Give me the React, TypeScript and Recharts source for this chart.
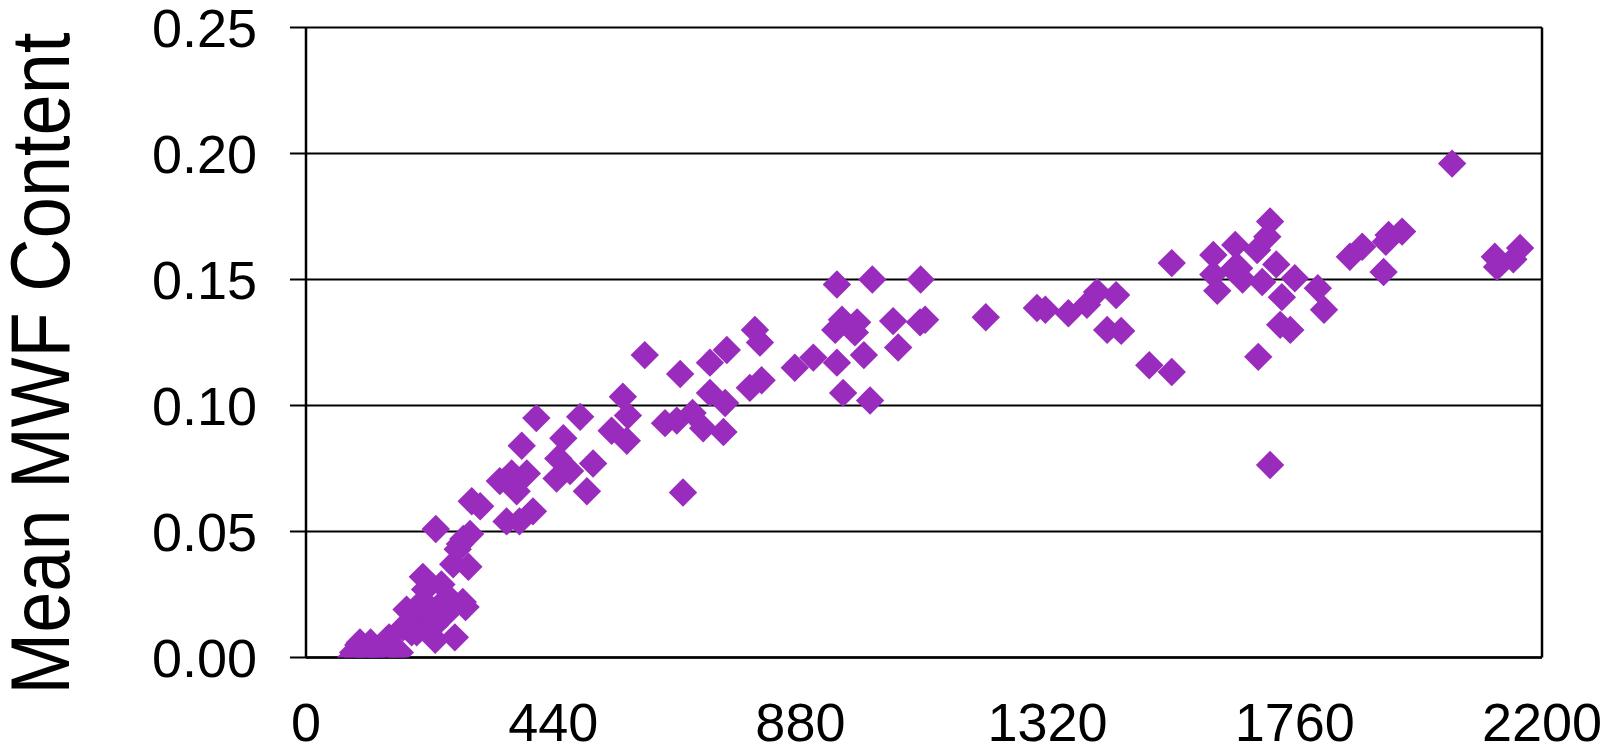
import React from "react";
import {
  ScatterChart,
  Scatter,
  XAxis,
  YAxis,
  CartesianGrid,
  ReferenceLine,
} from "recharts";

// X values (horizontal axis) and mean MWF content (vertical axis)
const xValues: number[] = [
  80, 84, 93, 96, 106, 114, 115, 126, 135, 138, 144, 148, 162, 167, 173, 179,
  188, 194, 197, 202, 208, 212, 217, 224, 230, 230, 231, 235, 241, 248, 257,
  262, 265, 270, 274, 279, 280, 284, 289, 292, 295, 310,
  345, 357, 366, 375, 380, 384, 393, 404, 410, 446, 449, 458, 470, 488, 500,
  511, 544, 564, 571, 573, 603, 639, 660, 666, 671, 688, 707, 719, 719, 743,
  746, 749, 790, 799, 808, 811, 870, 903, 942, 945, 945, 954, 956, 977, 981,
  993, 1004, 1008, 1045, 1054, 1093, 1094, 1102,
  1210, 1301, 1316, 1357, 1390, 1408, 1426, 1442, 1451, 1501, 1541, 1541,
  1615, 1615, 1622, 1650, 1654, 1661, 1667, 1693, 1695, 1702, 1711, 1716,
  1716, 1727, 1734, 1737, 1752, 1760, 1801, 1812, 1858, 1880, 1918, 1922,
  1927, 1951, 2040, 2116, 2120, 2149, 2161,
];

const mwfValues: number[] = [
  0.0, 0.002, 0.005, 0.006, 0.002, 0.002, 0.006, 0.003, 0.0, 0.005, 0.007,
  0.008, 0.002, 0.002, 0.012, 0.019, 0.01, 0.015, 0.01, 0.021, 0.032, 0.027,
  0.019, 0.019, 0.007, 0.013, 0.051, 0.02, 0.029, 0.017, 0.023, 0.037, 0.008,
  0.043, 0.045, 0.022, 0.047, 0.02, 0.036, 0.049, 0.062, 0.06,
  0.07, 0.054, 0.073, 0.066, 0.054, 0.084, 0.073, 0.058, 0.095, 0.071, 0.079,
  0.087, 0.074, 0.0955, 0.066, 0.077, 0.09, 0.1035, 0.086, 0.096, 0.12, 0.093,
  0.094, 0.1125, 0.0655, 0.097, 0.091, 0.105, 0.117, 0.0895, 0.101, 0.122,
  0.107, 0.13, 0.125, 0.11, 0.115, 0.119, 0.13, 0.148, 0.117, 0.134, 0.105,
  0.129, 0.133, 0.12, 0.102, 0.15, 0.1335, 0.123, 0.133, 0.15, 0.134,
  0.135, 0.1387, 0.138, 0.1366, 0.14, 0.145, 0.13, 0.1438, 0.1296, 0.116,
  0.1133, 0.1565, 0.1597, 0.152, 0.1455, 0.154, 0.1637, 0.1545, 0.15, 0.1617,
  0.1193, 0.149, 0.167, 0.173, 0.0764, 0.156, 0.132, 0.143, 0.13, 0.1505,
  0.1465, 0.138, 0.159, 0.163, 0.153, 0.165, 0.1677, 0.169, 0.196, 0.159,
  0.155, 0.158, 0.1625,
];

const xTicks: number[] = [0, 440, 880, 1320, 1760, 2200];
const yTicks: number[] = [0, 0.05, 0.1, 0.15, 0.2, 0.25];
const yAxisTitle = "Mean MWF Content";

const points = xValues.map((x, i) => ({ x, y: mwfValues[i] }));

const COLOR = "#992bbd";
const FONT = "'Liberation Sans', Arial, sans-serif";
const HALF = 14.2;

const Diamond = (props: any) => {
  const { cx, cy } = props;
  if (cx == null || cy == null) return null;
  const d = `M${cx},${cy - HALF}L${cx + HALF},${cy}L${cx},${cy + HALF}L${cx - HALF},${cy}Z`;
  return <path d={d} fill={COLOR} stroke="none" />;
};

const YTitle = (props: any) => {
  const vb = props.viewBox || { x: 0, y: 0, width: 0, height: 0 };
  const cx = vb.x + 41;
  const cy = vb.y + vb.height / 2 + 21;
  return (
    <g transform={`translate(${cx}, ${cy}) rotate(-90) scale(1, 1.12)`}>
      <text
        x={0}
        y={0}
        textAnchor="middle"
        dominantBaseline="central"
        fontFamily={FONT}
        fontSize={74}
        fill="#000"
      >
        {yAxisTitle}
      </text>
    </g>
  );
};

export default function App() {
  return (
    <div style={{ position: "absolute", left: 0, top: 0, width: 1604, height: 755, background: "#fff" }}>
      <ScatterChart
        width={1604}
        height={755}
        margin={{ top: 27.5, right: 62, bottom: 0, left: 0 }}
      >
        <CartesianGrid
          horizontal={true}
          vertical={false}
          stroke="#000"
          strokeWidth={2}
          strokeOpacity={1}
        />
        <XAxis
          type="number"
          dataKey="x"
          domain={[0, 2200]}
          ticks={xTicks}
          allowDataOverflow={true}
          height={97.5}
          axisLine={{ stroke: "#000", strokeWidth: 2.5 }}
          tickLine={false}
          tickSize={0}
          tickMargin={45}
          interval={0}
          tick={{ fontFamily: FONT, fontSize: 54, fill: "#000" }}
        />
        <YAxis
          type="number"
          dataKey="y"
          domain={[0, 0.25]}
          ticks={yTicks}
          allowDataOverflow={true}
          width={306}
          axisLine={{ stroke: "#000", strokeWidth: 2.5 }}
          tickLine={{ stroke: "#000", strokeWidth: 2 }}
          tickSize={16}
          tickMargin={33}
          interval={0}
          tickFormatter={(v: number) => v.toFixed(2)}
          tick={{ fontFamily: FONT, fontSize: 54, fill: "#000" }}
          label={<YTitle />}
        />
        <ReferenceLine x={2200} stroke="#000" strokeWidth={2.5} />
        <Scatter
          data={points}
          shape={<Diamond />}
          isAnimationActive={false}
        />
      </ScatterChart>
    </div>
  );
}
